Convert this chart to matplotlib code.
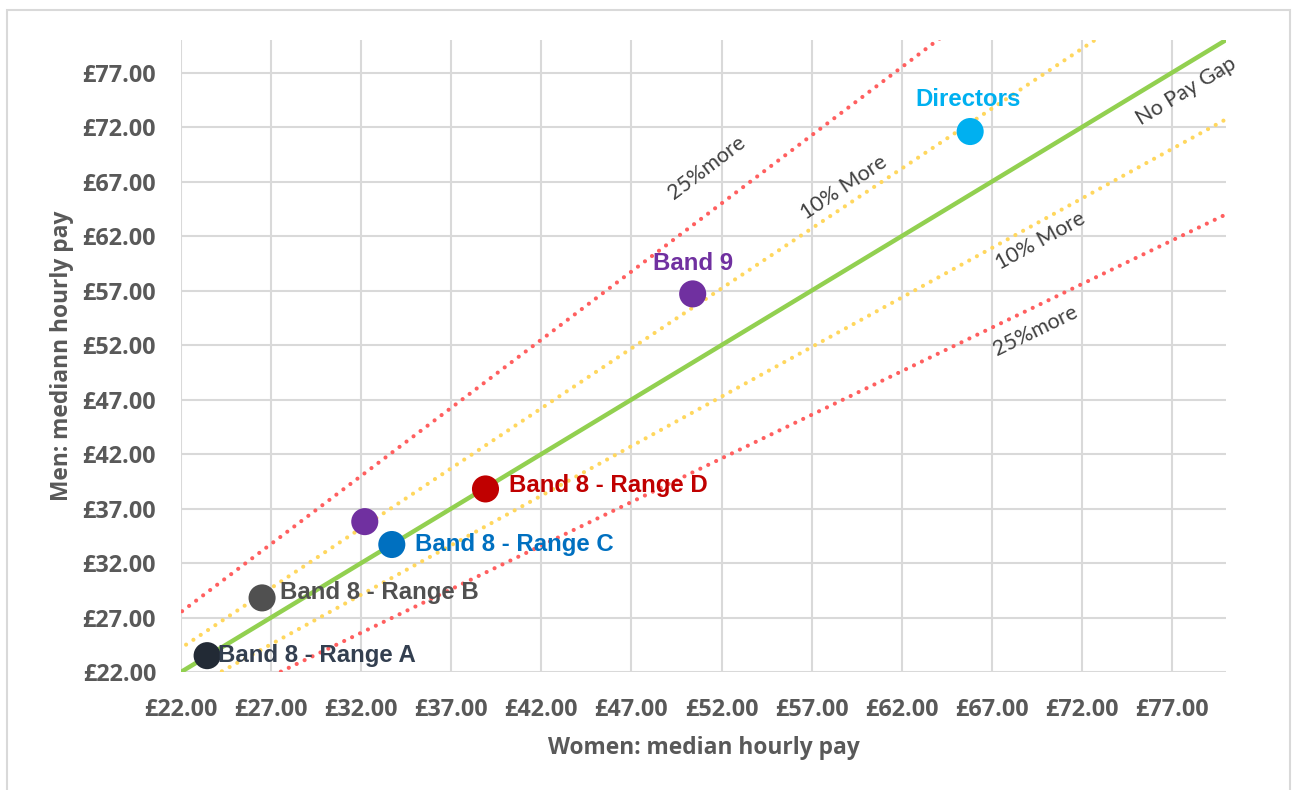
import matplotlib
matplotlib.use("Agg")
import matplotlib.pyplot as plt
import numpy as np
from matplotlib.patches import Rectangle

# ---- data ----
groups = ["Band 8 - Range A", "Band 8 - Range B", "", "Band 8 - Range C",
          "Band 8 - Range D", "Band 9", "Directors"]
women_pay = [23.45, 26.5, 32.2, 33.7, 38.9, 50.4, 65.8]
men_pay = [23.5, 28.8, 35.8, 33.7, 38.8, 56.7, 71.6]
point_colors = ["#222a35", "#505050", "#7030a0", "#0070c0", "#c00000", "#7030a0", "#00b0f0"]
label_colors = ["#333f50", "#505050", "#7030a0", "#0070c0", "#c00000", "#7030a0", "#00b0f0"]

ref_ratios = [1.25, 1.1, 1.0, 1 / 1.1, 0.8]
ref_labels = ["25%more", "10% More", "No Pay Gap", "10% More", "25%more"]
ref_colors = ["#ff5f5f", "#ffd75e", "#92d050", "#ffd75e", "#ff5f5f"]

tick_values = list(range(22, 78, 5))
tick_labels = [f"£{v:.2f}" for v in tick_values]

# ---- figure ----
W, H = 1293, 790
fig = plt.figure(figsize=(W / 100, H / 100), dpi=100)
fig.patches.append(Rectangle((7 / W, -0.01), (1290 - 7) / W, (H - 10) / H + 0.01,
                             transform=fig.transFigure, fill=False,
                             edgecolor="#d9d9d9", linewidth=1.5))
ax = fig.add_axes([181 / W, (H - 672) / H, (1226 - 181) / W, (672 - 40) / H])
xmin, xmax, ymin, ymax = 22, 80, 22, 80
ax.set_xlim(xmin, xmax)
ax.set_ylim(ymin, ymax)

for s in ax.spines.values():
    s.set_visible(False)
ax.set_xticks(tick_values)
ax.set_yticks(tick_values)
ax.set_xticklabels(tick_labels)
ax.set_yticklabels(tick_labels)
ax.tick_params(length=0, labelsize=16.8, labelcolor="#595959")
ax.tick_params(axis="x", pad=19)
ax.tick_params(axis="y", pad=18)
for lab in ax.get_xticklabels() + ax.get_yticklabels():
    lab.set_fontfamily("Open Sans")
    lab.set_fontweight("bold")
ax.grid(True, color="#d9d9d9", linewidth=1.5)
ax.set_axisbelow(True)

xs = np.array([xmin - 5, xmax + 5])
for r, c in zip(ref_ratios, ref_colors):
    if r == 1.0:
        ax.plot(xs, r * xs, color=c, linewidth=3.2, zorder=2, solid_capstyle="butt")
    else:
        ax.plot(xs, r * xs, color=c, linewidth=3.0, linestyle=(0, (0.01, 2.1)),
                dash_capstyle="round", zorder=2)

# reference line labels
lab_pos = [(51.2, 68.3), (58.8, 66.5), (77.8, 75.3), (69.7, 61.6), (69.4, 53.3)]
px_per_x = (1226 - 181) / (xmax - xmin)
px_per_y = (672 - 40) / (ymax - ymin)
for (lx, ly), r, t in zip(lab_pos, ref_ratios, ref_labels):
    ang = np.degrees(np.arctan(r * px_per_y / px_per_x))
    ax.text(lx, ly, t, rotation=ang, rotation_mode="anchor", ha="center", va="center",
            fontsize=15.5, color="#404040", family="Lato", zorder=3)

ax.scatter(women_pay, men_pay, s=380, c=point_colors, zorder=5, linewidths=0)

# point labels
offsets = [(0.6, 0.0, "left"), (1.0, 0.5, "left"), None, (1.3, 0.0, "left"),
           (1.3, 0.3, "left"), (0.0, 2.8, "center"), (-0.1, 2.9, "center")]
for g, x, y, col, off in zip(groups, women_pay, men_pay, label_colors, offsets):
    if not g or off is None:
        continue
    dx, dy, ha = off
    ax.text(x + dx, y + dy, g, ha=ha, va="center", fontsize=17.3, fontweight="bold",
            color=col, family="Liberation Sans", zorder=6)

ax.set_xlabel("Women: median hourly pay", fontsize=16.4, fontweight="bold",
              color="#595959", family="Open Sans", labelpad=10)
ax.set_ylabel("Men: mediann hourly pay", fontsize=16.4, fontweight="bold",
              color="#595959", family="Open Sans", labelpad=6)

fig.savefig("out.png", dpi=100)
